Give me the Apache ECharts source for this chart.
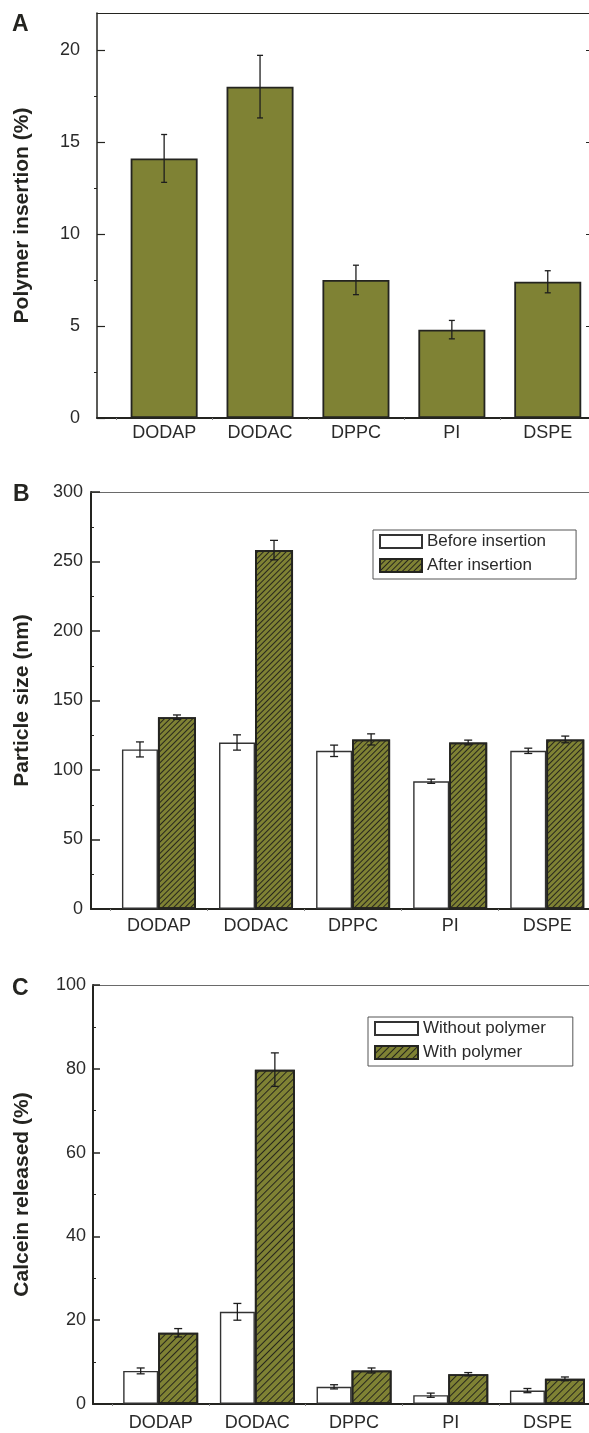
<!DOCTYPE html>
<html>
<head>
<meta charset="utf-8">
<script src="https://cdn.jsdelivr.net/npm/echarts@6/dist/echarts.min.js"></script>
<style>
html,body{margin:0;padding:0;background:#fff;}
#chart{width:589px;height:1433px;}
</style>
</head>
<body>
<div id="chart"></div>
<script>
// ---------- data ----------
const categories = ['DODAP', 'DODAC', 'DPPC', 'PI', 'DSPE'];
const catPos = [1, 2, 3, 4, 5];
const catBounds = [0.5, 1.5, 2.5, 3.5, 4.5];

// Panel A: polymer insertion (%)
const insertion = [14.1, 18.0, 7.5, 4.8, 7.4];
const insertionErr = [1.3, 1.7, 0.8, 0.5, 0.6];
const yTicksA = [0, 5, 10, 15, 20];
const yMinorA = [2.5, 7.5, 12.5, 17.5];

// Panel B: particle size (nm)
const sizeBefore = [114.8, 119.8, 113.8, 91.9, 113.8];
const sizeBeforeErr = [5.4, 5.5, 4.1, 1.5, 1.9];
const sizeAfter = [138.0, 258.2, 122.0, 119.8, 122.0];
const sizeAfterErr = [1.6, 7.0, 4.0, 1.7, 2.4];

// Panel C: calcein released (%)
const calceinWithout = [7.9, 22.0, 4.1, 2.1, 3.2];
const calceinWithoutErr = [0.7, 2.0, 0.5, 0.5, 0.5];
const calceinWith = [17.0, 79.8, 8.0, 7.1, 6.0];
const calceinWithErr = [1.0, 4.0, 0.6, 0.4, 0.45];

// ---------- style ----------
const FONT = 'Liberation Sans, Arial, Helvetica, sans-serif';
const OLIVE = '#7f8234';
const DARK = '#242420';
const TXT = '#2a2a2a';
const XMIN = 0.3, XMAX = 5.43;

const chart = echarts.init(document.getElementById('chart'), null, {renderer: 'canvas'});

function xPair(gi, margin) {
  return [
    {
      type: 'value', gridIndex: gi, min: XMIN, max: XMAX, position: 'bottom',
      axisLine: {onZero: false, lineStyle: {color: DARK, width: 2}},
      axisTick: {customValues: catBounds, length: 2, lineStyle: {color: '#888'}},
      axisLabel: {
        customValues: catPos, margin: margin, fontSize: 18, color: TXT, fontFamily: FONT,
        formatter: v => categories[catPos.indexOf(v)] || ''
      },
      splitLine: {show: false}
    },
    {
      type: 'value', gridIndex: gi, min: XMIN, max: XMAX, position: 'top',
      axisLine: {onZero: false, lineStyle: {color: gi === 0 ? DARK : '#6a6a6a', width: 1}},
      axisTick: {show: false}, axisLabel: {show: false}, splitLine: {show: false}
    }
  ];
}

function yMain(gi, max, interval, name, gap, margin, tickLen) {
  return {
    type: 'value', gridIndex: gi, min: 0, max: max, interval: interval, position: 'left',
    axisLine: {show: true, onZero: false, lineStyle: {color: DARK, width: 2}},
    axisTick: {inside: true, length: tickLen, lineStyle: {color: DARK, width: 1.5}},
    minorTick: {show: true, splitNumber: 2, length: 3, lineStyle: {color: DARK, width: 1}},
    axisLabel: {margin: margin, fontSize: 18, color: TXT, fontFamily: FONT},
    splitLine: {show: false},
    name: name, nameLocation: 'middle', nameGap: gap,
    nameTextStyle: {fontSize: 21, fontWeight: 'bold', color: DARK, fontFamily: FONT}
  };
}

function errSeries(xi, yi, vals, errs, dx, cap) {
  return {
    type: 'custom', xAxisIndex: xi, yAxisIndex: yi, z: 10, silent: true,
    encode: {x: 0, y: 1},
    data: catPos.map((p, i) => [p, vals[i], errs[i]]),
    renderItem: (params, api) => {
      const x = api.value(0), y = api.value(1), e = api.value(2);
      const t = api.coord([x, y + e]);
      const b = api.coord([x, y - e]);
      const px = t[0] + dx;
      const st = {stroke: '#1e1e1e', lineWidth: 1.3};
      return {
        type: 'group',
        children: [
          {type: 'line', shape: {x1: px, y1: t[1], x2: px, y2: b[1]}, style: st},
          {type: 'line', shape: {x1: px - cap, y1: t[1], x2: px + cap, y2: t[1]}, style: st},
          {type: 'line', shape: {x1: px - cap, y1: b[1], x2: px + cap, y2: b[1]}, style: st}
        ]
      };
    }
  };
}

function hatch(gapY) {
  return {
    symbol: 'rect', symbolSize: 1,
    dashArrayX: [1, 0], dashArrayY: [1, gapY],
    rotation: -Math.PI / 4, color: '#26261c'
  };
}

// bar widths (px) for grouped panels
const wB1 = 36, wB2 = 38;
const wC1 = 35, wC2 = 40;
const offB1 = -(wB1 + wB2) / 2 + wB1 / 2, offB2 = -(wB1 + wB2) / 2 + wB1 + wB2 / 2;
const offC1 = -(wC1 + wC2) / 2 + wC1 / 2, offC2 = -(wC1 + wC2) / 2 + wC1 + wC2 / 2;

const whiteStyle = {color: '#ffffff', borderColor: '#333333', borderWidth: 1.4};

const option = {
  backgroundColor: '#ffffff',
  animation: false,
  textStyle: {fontFamily: FONT},
  title: [
    {text: 'A', left: 12, top: 13, padding: 0, textStyle: {fontSize: 23, fontWeight: 'bold', color: DARK, fontFamily: FONT}},
    {text: 'B', left: 13, top: 483, padding: 0, textStyle: {fontSize: 23, fontWeight: 'bold', color: DARK, fontFamily: FONT}},
    {text: 'C', left: 12, top: 977, padding: 0, textStyle: {fontSize: 23, fontWeight: 'bold', color: DARK, fontFamily: FONT}}
  ],
  grid: [
    {left: 97, top: 13, width: 492, height: 405},
    {left: 91, top: 492, width: 498, height: 417},
    {left: 93, top: 985, width: 505, height: 419}
  ],
  legend: [
    {
      data: ['Before insertion', 'After insertion'],
      orient: 'vertical', left: 373, top: 530,
      itemWidth: 42, itemHeight: 13, itemGap: 7,
      padding: [3, 30, 5, 6],
      borderColor: '#555', borderWidth: 1,
      icon: 'rect',
      textStyle: {fontSize: 17, color: TXT, fontFamily: FONT, lineHeight: 17},
      selectedMode: false
    },
    {
      data: ['Without polymer', 'With polymer'],
      orient: 'vertical', left: 368, top: 1017,
      itemWidth: 43, itemHeight: 13, itemGap: 7,
      padding: [3, 27, 5, 6],
      borderColor: '#555', borderWidth: 1,
      icon: 'rect',
      textStyle: {fontSize: 17, color: TXT, fontFamily: FONT, lineHeight: 17},
      selectedMode: false
    }
  ],
  xAxis: [].concat(xPair(0, 6), xPair(1, 8), xPair(2, 10)),
  yAxis: [
    // 0: A left
    {
      type: 'value', gridIndex: 0, min: 0, max: 22, position: 'left',
      axisLine: {show: true, onZero: false, lineStyle: {color: DARK, width: 1.5}},
      axisTick: {customValues: yTicksA, inside: true, length: 8, lineStyle: {color: DARK, width: 1.2}},
      axisLabel: {customValues: yTicksA, margin: 17, fontSize: 18, color: TXT, fontFamily: FONT},
      splitLine: {show: false},
      name: 'Polymer insertion (%)', nameLocation: 'middle', nameGap: 64,
      nameTextStyle: {fontSize: 21, fontWeight: 'bold', color: DARK, fontFamily: FONT}
    },
    // 1: A minor ticks
    {
      type: 'value', gridIndex: 0, min: 0, max: 22, position: 'left',
      axisLine: {show: false, onZero: false},
      axisTick: {customValues: yMinorA, inside: false, length: 3, lineStyle: {color: DARK, width: 1}},
      axisLabel: {show: false}, splitLine: {show: false}
    },
    // 2: A right
    {
      type: 'value', gridIndex: 0, min: 0, max: 22, position: 'right',
      axisLine: {show: true, onZero: false, lineStyle: {color: DARK, width: 1}},
      axisTick: {customValues: [5, 10, 15, 20], inside: true, length: 3, lineStyle: {color: DARK, width: 1}},
      axisLabel: {show: false}, splitLine: {show: false}
    },
    // 3: B left
    yMain(1, 300, 50, 'Particle size (nm)', 58, 8, 9),
    // 4: C left
    yMain(2, 100, 20, 'Calcein released (%)', 60, 7, 7)
  ],
  series: [
    {
      name: 'Polymer insertion', type: 'bar', xAxisIndex: 0, yAxisIndex: 0,
      barWidth: 67,
      data: catPos.map((p, i) => [p, insertion[i]]),
      itemStyle: {color: OLIVE, borderColor: DARK, borderWidth: 1.8}
    },
    errSeries(0, 0, insertion, insertionErr, 0, 3),

    {
      name: 'Before insertion', type: 'bar', xAxisIndex: 2, yAxisIndex: 3,
      barWidth: wB1, barGap: 0,
      data: catPos.map((p, i) => [p, sizeBefore[i]]),
      itemStyle: whiteStyle
    },
    {
      name: 'After insertion', type: 'bar', xAxisIndex: 2, yAxisIndex: 3,
      barWidth: wB2, barGap: 0,
      data: catPos.map((p, i) => [p, sizeAfter[i]]),
      itemStyle: {color: OLIVE, borderColor: DARK, borderWidth: 1.8, decal: hatch(3)}
    },
    errSeries(2, 3, sizeBefore, sizeBeforeErr, offB1, 4),
    errSeries(2, 3, sizeAfter, sizeAfterErr, offB2, 4),

    {
      name: 'Without polymer', type: 'bar', xAxisIndex: 4, yAxisIndex: 4,
      barWidth: wC1, barGap: 0,
      data: catPos.map((p, i) => [p, calceinWithout[i]]),
      itemStyle: whiteStyle
    },
    {
      name: 'With polymer', type: 'bar', xAxisIndex: 4, yAxisIndex: 4,
      barWidth: wC2, barGap: 0,
      data: catPos.map((p, i) => [p, calceinWith[i]]),
      itemStyle: {color: OLIVE, borderColor: DARK, borderWidth: 1.8, decal: hatch(4)}
    },
    errSeries(4, 4, calceinWithout, calceinWithoutErr, offC1, 4),
    errSeries(4, 4, calceinWith, calceinWithErr, offC2, 4)
  ]
};

chart.setOption(option);
</script>
</body>
</html>
